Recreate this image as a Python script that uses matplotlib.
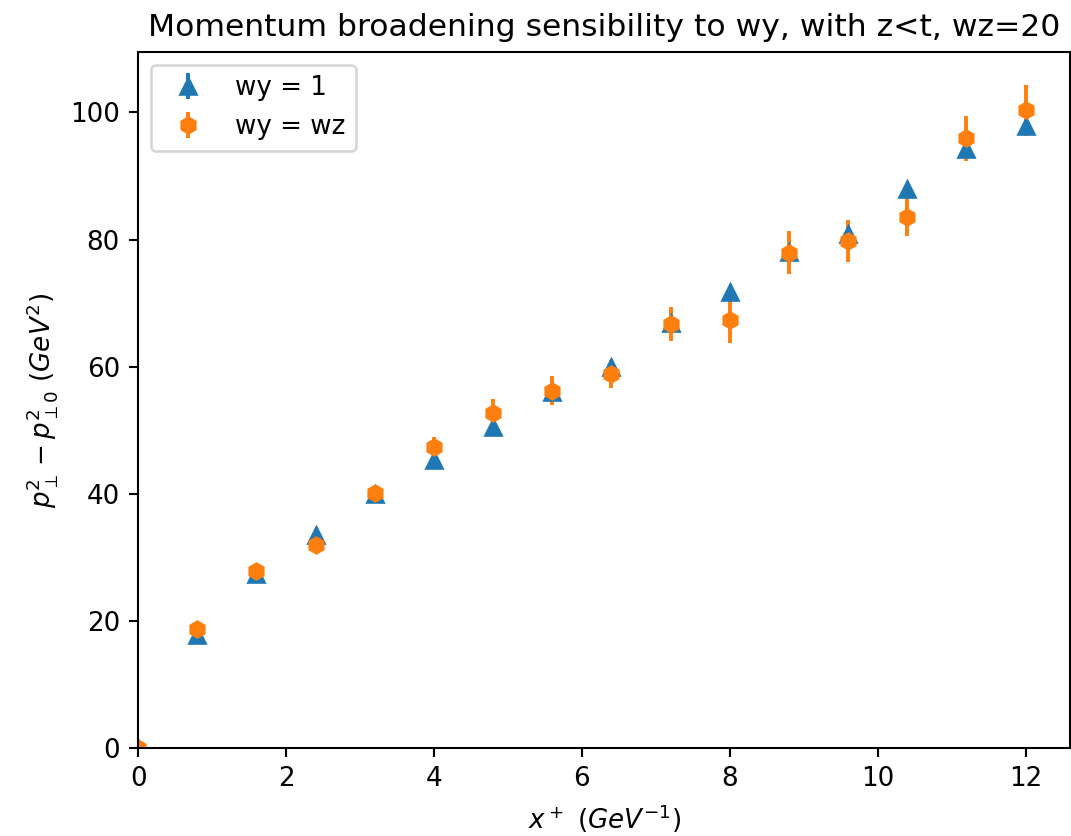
import matplotlib.pyplot as plt
import numpy as np

# x positions (GeV^-1)
x = [0.0, 0.8, 1.6, 2.4, 3.2, 4.0, 4.8, 5.6, 6.4, 7.2, 8.0, 8.8, 9.6, 10.4, 11.2, 12.0]

# wy = 1
y_wy1 = [0.0, 17.8, 27.4, 33.6, 40.0, 45.3, 50.5, 56.0, 60.0, 66.9, 71.8, 78.1, 80.9, 87.9, 94.3, 97.8]
err_wy1 = [0.0, 0.3, 0.4, 0.4, 0.5, 0.5, 0.6, 0.6, 0.7, 0.7, 0.8, 0.8, 0.9, 0.9, 1.0, 1.0]

# wy = wz
y_wywz = [0.0, 18.8, 27.9, 32.0, 40.2, 47.3, 52.7, 56.2, 58.8, 66.7, 67.3, 77.9, 79.8, 83.6, 95.9, 100.3]
err_wywz = [0.0, 0.8, 0.9, 1.0, 1.1, 1.7, 2.2, 2.3, 2.2, 2.7, 3.5, 3.4, 3.3, 3.0, 3.6, 4.0]

dpi = 188
fig = plt.figure(figsize=(1071 / dpi, 836 / dpi), dpi=dpi)
ax = fig.add_axes([0.129, 0.105, 0.870, 0.833])

ax.errorbar(x, y_wy1, yerr=err_wy1, fmt='^', label='wy = 1')
ax.errorbar(x, y_wywz, yerr=err_wywz, fmt='h', label='wy = wz')

ax.set_xlim(left=0)
ax.set_ylim(bottom=0)
ax.set_xlabel(r'$x^+ \ (GeV^{-1})$')
ax.set_ylabel(r'$p_\perp^2 - p_{\perp 0}^2 \ (GeV^2)$')
ax.set_title('Momentum broadening sensibility to wy, with z<t, wz=20')
ax.legend(loc='upper left')

fig.savefig('out.png', dpi=dpi)
